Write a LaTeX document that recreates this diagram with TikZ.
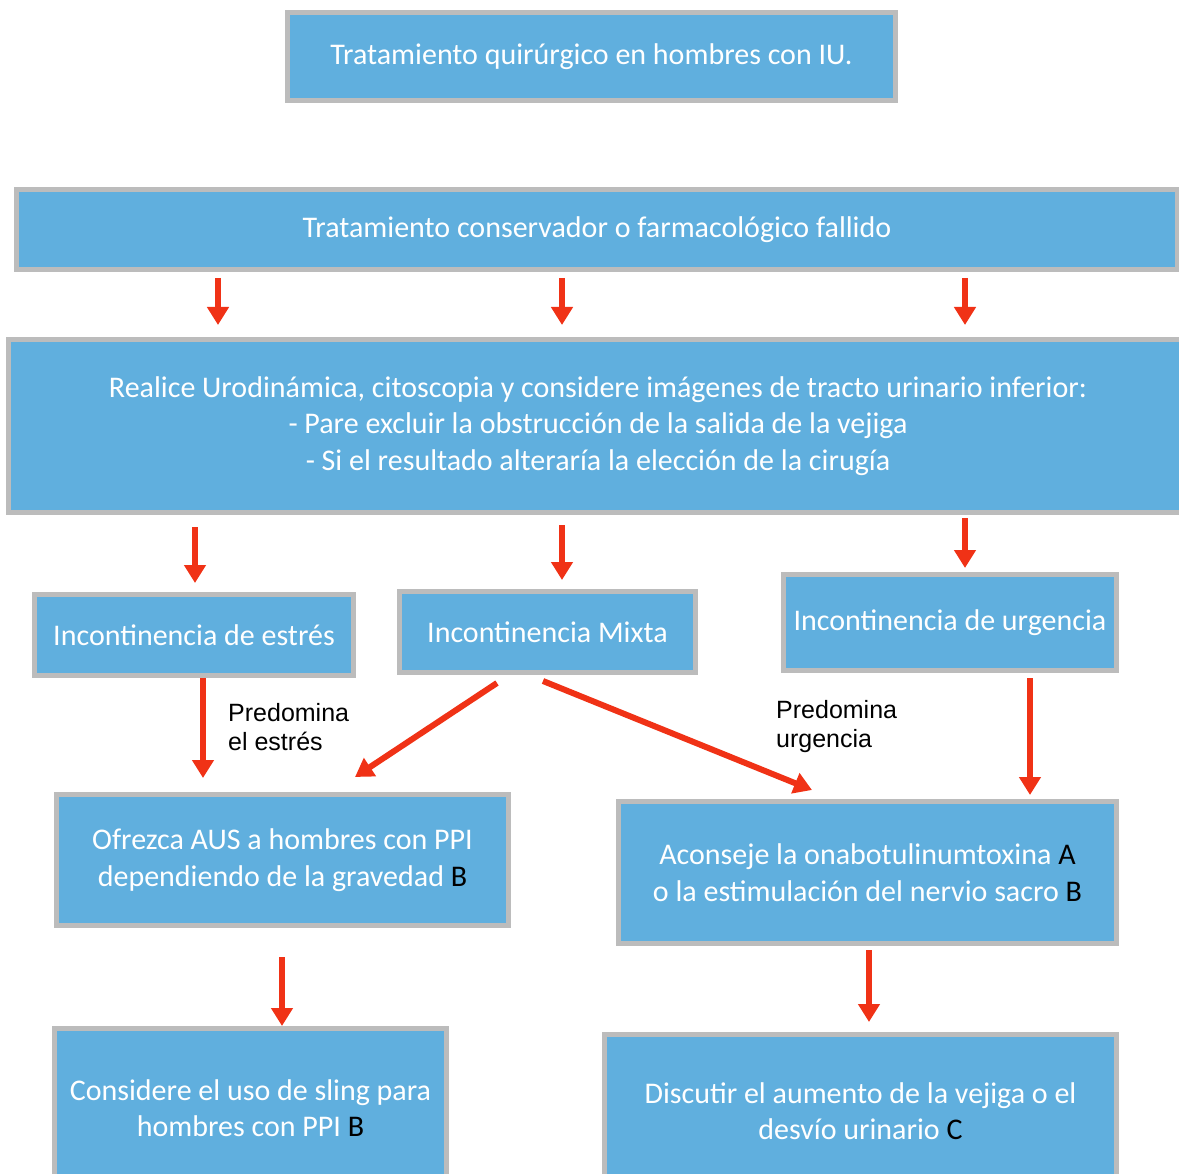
\documentclass[tikz,border=0pt]{standalone}
\usepackage{fontspec}
\setmainfont{Carlito}
\newfontfamily\condfont{Liberation Sans}
\usetikzlibrary{arrows.meta}

\definecolor{boxblue}{RGB}{96,175,222}
\definecolor{boxgray}{RGB}{188,188,188}
\definecolor{arrred}{RGB}{240,50,22}

\tikzset{
  stepbox/.style={draw=boxgray, line width=5pt, fill=boxblue, text=white,
    align=center, inner sep=0pt, font=\fontsize{30}{36.5}\selectfont},
  arr/.style={arrred, line width=6pt, -{Triangle[width=21pt,length=18pt]}},
  cond/.style={align=left, anchor=west, inner sep=0pt,
    font=\condfont\fontsize{25}{29}\selectfont}
}
\newcommand{\grade}[1]{\textcolor{black}{#1}}

\begin{document}
\begin{tikzpicture}[x=1pt,y=-1pt]
      \clip (0,0) rectangle (1179,1174);
      \useasboundingbox (0,0) rectangle (1179,1174);
      % boxes
      \node[stepbox, minimum width=608pt, minimum height=88pt] (top) at (591.5,56.5)
        {Tratamiento quirúrgico en hombres con IU.};
      \node[stepbox, minimum width=1161pt, minimum height=80pt] (cons) at (597,229.5)
        {Tratamiento conservador o farmacológico fallido};
      \node[stepbox, minimum width=1179pt, minimum height=173pt] (urod) at (598,426)
        {Realice Urodinámica, citoscopia y considere imágenes de tracto urinario inferior:\\
         - Pare excluir la obstrucción de la salida de la vejiga\\
         - Si el resultado alteraría la elección de la cirugía};
      \node[stepbox, minimum width=319pt, minimum height=81pt] (estres) at (194,635)
        {Incontinencia de estrés};
      \node[stepbox, minimum width=296pt, minimum height=81pt] (mixta) at (547.5,632)
        {Incontinencia Mixta};
      \node[stepbox, minimum width=333pt, minimum height=96pt] (urg) at (950,622.5)
        {Incontinencia de urgencia};
      \node[stepbox, minimum width=452pt, minimum height=131pt] (ofrezca) at (282.5,860)
        {Ofrezca AUS a hombres con PPI\\ dependiendo de la gravedad \grade{B}};
      \node[stepbox, minimum width=498pt, minimum height=142pt] (aconseje) at (867.5,872.5)
        {Aconseje la onabotulinumtoxina \grade{A}\\ o la estimulación del nervio sacro \grade{B}};
      \node[stepbox, minimum width=392pt, minimum height=159pt] (sling) at (250.5,1108)
        {Considere el uso de sling para\\ hombres con PPI \grade{B}};
      \node[stepbox, minimum width=512pt, minimum height=153pt] (desvio) at (860.5,1111)
        {Discutir el aumento de la vejiga o el\\ desvío urinario \grade{C}};
      % conditions
      \node[cond] (pestres) at (228,727) {Predomina\\el estrés};
      \node[cond] (purg) at (776,727) {Predomina\\urgencia};
      % arrows
      \foreach \xa in {218,562,965}
        \draw[arr] ([yshift=-6pt]cons.south -| \xa,0) -- ([yshift=12pt]urod.north -| \xa,0);
      \draw[arr] ([yshift=-12pt]urod.south -| 195,0) -- ([yshift=9pt]estres.north -| 195,0);
      \draw[arr] ([yshift=-10pt]urod.south -| 562,0) -- ([yshift=9pt]mixta.north -| 562,0);
      \draw[arr] ([yshift=-3pt]urod.south -| 965,0) -- ([yshift=4pt]urg.north -| 965,0);
      \draw[arr] (estres.south -| 203,0) -- ([yshift=14pt]ofrezca.north -| 203,0);
      \draw[arr] ([yshift=-8pt]mixta.south -| 497,0) -- ([yshift=15pt]ofrezca.north -| 355,0);
      \draw[arr] ([yshift=-6pt]mixta.south -| 543,0) -- ([yshift=9pt]aconseje.north -| 812,0);
      \draw[arr] ([yshift=-5pt]urg.south -| 1030,0) -- ([yshift=4pt]aconseje.north -| 1030,0);
      \draw[arr] ([yshift=-29pt]ofrezca.south -| 282,0) -- (sling.north -| 282,0);
      \draw[arr] ([yshift=-4pt]aconseje.south -| 869,0) -- ([yshift=10pt]desvio.north -| 869,0);
    \end{tikzpicture}
\end{document}
